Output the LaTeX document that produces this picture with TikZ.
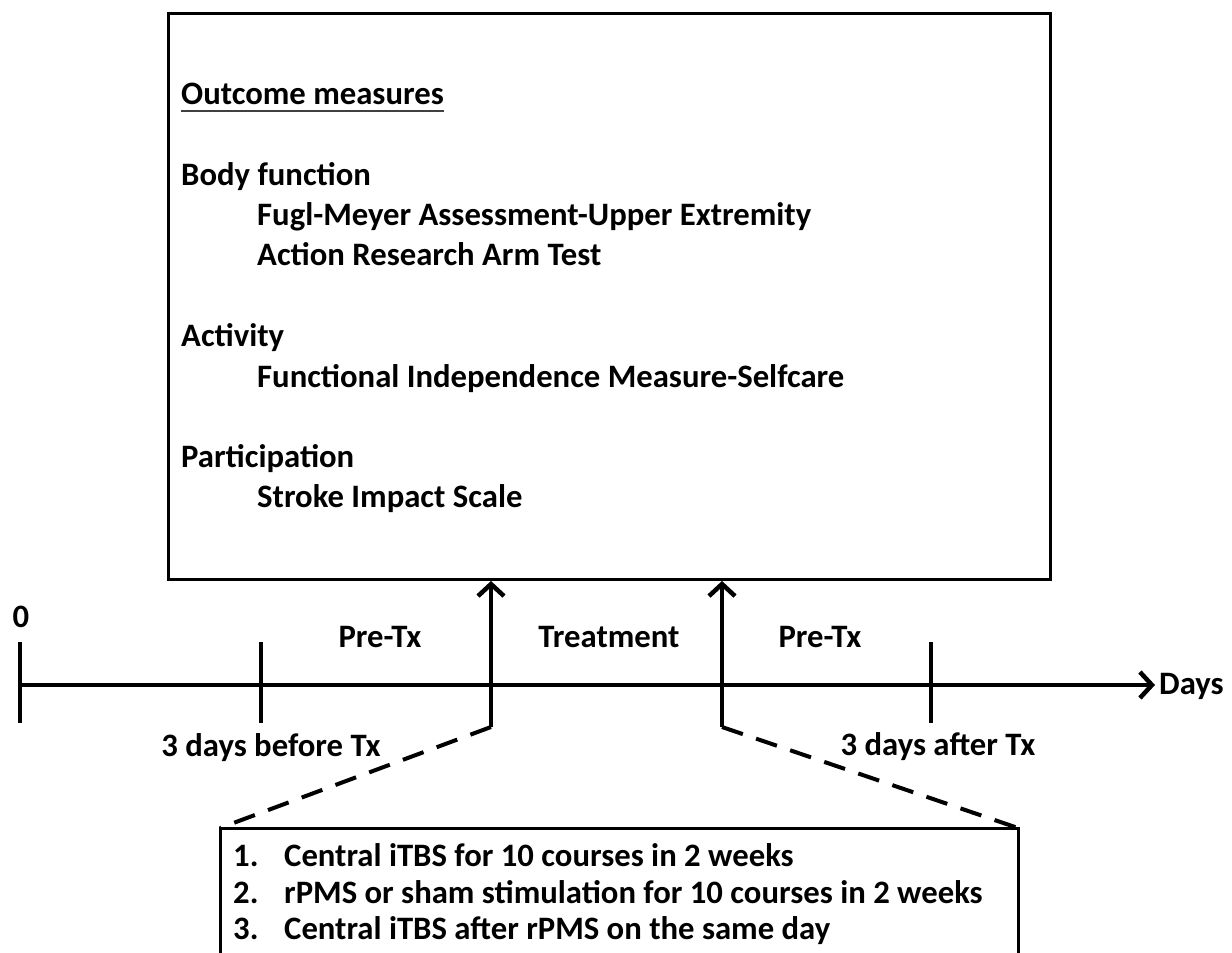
\documentclass[tikz,border=0pt]{standalone}
\usepackage{fontspec}
\setmainfont{Carlito}
\usetikzlibrary{arrows.meta}
\begin{document}
\begin{tikzpicture}[x=1pt,y=-1pt,
  txt/.style={font=\bfseries\fontsize{32.7}{40}\selectfont, inner sep=0pt, anchor=base west},
  ctxt/.style={font=\bfseries\fontsize{32.7}{40}\selectfont, inner sep=0pt, anchor=base},
  heavy/.style={line width=4pt},
  barb/.style={heavy, -{Straight Barb[length=12pt,width=26pt,line width=4.5pt]}},
  dashline/.style={line width=4pt, dash pattern=on 22pt off 14pt}
]
\useasboundingbox (0,0) rectangle (1232,953);
\fill[white] (0,0) rectangle (1232,953);
% outcome box
\node[draw, line width=3pt, minimum width=882pt, minimum height=566pt, anchor=north west, inner sep=0pt] (box) at (167,12) {};
\node[txt] (om) at (181,104) {Outcome measures};
\draw[line width=1.5pt, black!75] ([yshift=-7pt]om.base west) -- ([yshift=-7pt]om.base east);
\node[txt] (bf) at (181,185) {Body function};
\node[txt] (fm) at (257,225) {Fugl-Meyer Assessment-Upper Extremity};
\node[txt] (ar) at (257,265) {Action Research Arm Test};
\node[txt] (ac) at (181,346) {Activity};
\node[txt] (fi) at (257,387) {Functional Independence Measure-Selfcare};
\node[txt] (pa) at (181,467) {Participation};
\node[txt] (ss) at (257,507) {Stroke Impact Scale};
% timeline
\coordinate (t0) at (20,685);
\coordinate (tend) at (1155,685);
\draw[barb] (t0) -- (tend);
\node[txt] (days) at (1159,694) {Days};
\coordinate (k0) at (20,642);
\coordinate (k1) at (261,642);
\coordinate (k2) at (931,642);
\draw[heavy] (k0) -- ++(0,81);
\draw[heavy] (k1) -- ++(0,81);
\draw[heavy] (k2) -- ++(0,81);
\node[ctxt] (zero) at (21,627) {0};
\node[ctxt] (pre1) at (380,647) {Pre-Tx};
\node[ctxt] (trt) at (609,647) {Treatment};
\node[ctxt] (pre2) at (820,647) {Pre-Tx};
\node[ctxt] (bef) at (271,756) {3 days before Tx};
\node[ctxt] (aft) at (938,755) {3 days after Tx};
% treatment arrows
\coordinate (a1) at (491,727);
\coordinate (a2) at (722,727);
\draw[barb] (a1) -- (a1 |- box.south);
\draw[barb] (a2) -- (a2 |- box.south);
% bottom box
\coordinate (blt) at (220,828);
\coordinate (brt) at (1018,828);
\draw[line width=3pt] (blt |- 0,960) -- (blt) -- (brt) -- (brt |- 0,960);
\draw[dashline] (a1) -- (blt);
\draw[dashline] (a2) -- (brt);
\node[txt] (n1) at (233,866) {1.};
\node[txt] (l1) at (284,866) {Central iTBS for 10 courses in 2 weeks};
\node[txt] (n2) at (233,903) {2.};
\node[txt] (l2) at (284,903) {rPMS or sham stimulation for 10 courses in 2 weeks};
\node[txt] (n3) at (233,939) {3.};
\node[txt] (l3) at (284,939) {Central iTBS after rPMS on the same day};
\end{tikzpicture}
\end{document}
